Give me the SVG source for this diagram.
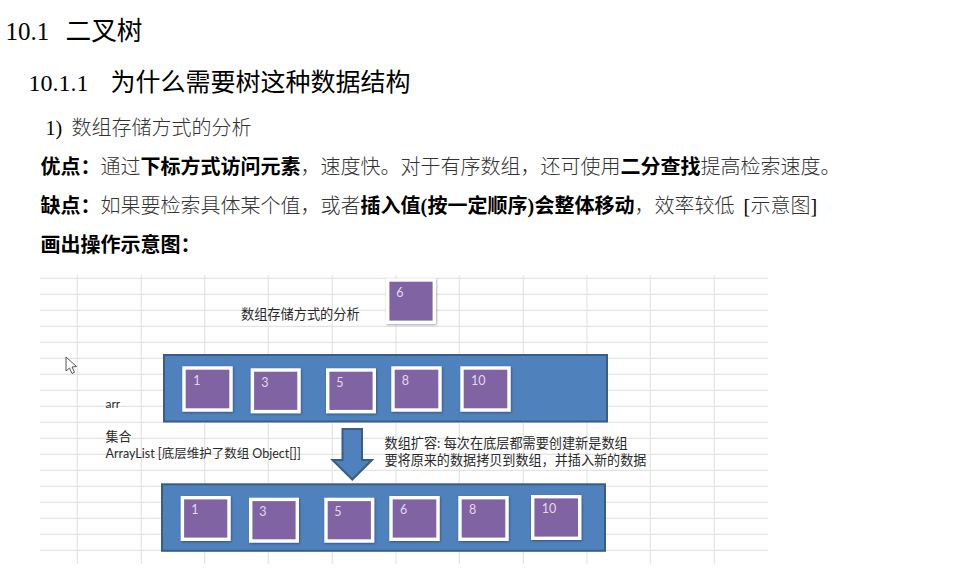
<svg xmlns="http://www.w3.org/2000/svg" width="961" height="576" viewBox="0 0 961 576">
<style>
text{white-space:pre}
.doc{font-family:"Liberation Serif","Noto Sans CJK SC",serif;fill:#000}
.cn{font-family:"Noto Sans CJK SC",sans-serif}
.reg{fill:#333;font-weight:300;font-size:20px}
.b{fill:#000;font-weight:700;font-size:20px}
.h{fill:#000;font-weight:400}
.x{font-family:"Lato","Noto Sans CJK SC",sans-serif;font-size:13px;fill:#2a2a2a}
.n{font-family:"Lato",sans-serif;font-size:12.500px;fill:#e3d9ee}
.g{stroke:#e4e4e4;stroke-width:1.2;fill:none}
.bar{fill:#4f81bd;stroke:#385d8a;stroke-width:2}
.sq{fill:#8064a2;stroke:#fff;stroke-width:3.4;filter:url(#s)}
</style>
<defs>
<filter id="s" x="-10%" y="-10%" width="125%" height="125%"><feDropShadow dx="0.7" dy="1" stdDeviation="0.8" flood-color="#000" flood-opacity="0.35"/></filter>
</defs>
<rect width="961" height="576" fill="#fff"/>

<g id="title">
<text class="doc" x="5.500" y="40" font-size="25">10.1</text><text class="cn h" x="65.500" y="40" font-size="25.700">二叉树</text>
</g>
<g id="subtitle">
<text class="doc" x="28.500" y="91" font-size="24">10.1.1</text><text class="cn h" x="110.500" y="91" font-size="25">为什么需要树这种数据结构</text>
</g>
<g id="line-1">
<text class="doc" x="45.500" y="135" font-size="20" fill="#333">1)</text><text class="cn reg" x="71.500" y="135">数组存储方式的分析</text>
</g>
<g id="line-2">
<text class="cn" x="40.500" y="174"><tspan class="b">优点：</tspan><tspan class="reg">通过</tspan><tspan class="b">下标方式访问元素</tspan><tspan class="reg">，速度快。对于有序数组，还可使用</tspan><tspan class="b">二分查找</tspan><tspan class="reg">提高检索速度。</tspan></text>
</g>
<g id="line-3">
<text class="cn" x="40.500" y="213"><tspan class="b">缺点：</tspan><tspan class="reg">如果要检索具体某个值，或者</tspan><tspan class="b">插入值</tspan></text>
<text class="doc" x="420.500" y="213" font-size="20" font-weight="700">(</text>
<text class="cn b" x="427.500" y="213">按一定顺序</text>
<text class="doc" x="527.500" y="213" font-size="20" font-weight="700">)</text>
<text class="cn b" x="534.500" y="213">会整体移动</text>
<text class="cn reg" x="634.500" y="213">，效率较低</text>
<text class="doc" x="743.500" y="213" font-size="20" fill="#333">[</text>
<text class="cn reg" x="750.500" y="213">示意图</text>
<text class="doc" x="810.500" y="213" font-size="20" fill="#333">]</text>
</g>
<g id="line-4">
<text class="cn b" x="40.500" y="252">画出操作示意图：</text>
</g>

<g id="grid">
<path class="g" d="M40 278.300H768M40 294.300H768M40 310.300H768M40 326.300H768M40 342.300H768M40 358.300H768M40 374.300H768M40 390.300H768M40 406.300H768M40 422.300H768M40 438.300H768M40 454.300H768M40 470.300H768M40 486.300H768M40 502.300H768M40 518.300H768M40 534.300H768M40 550.300H768"/>
<path class="g" d="M77.300 275V564M141.300 275V564M204.700 275V564M268.300 275V564M332.300 275V564M396 275V564M459.300 275V564M523.300 275V564M587 275V564M650.300 275V564M714.300 275V564"/>
</g>

<g id="cursor">
<path d="M66 357V371L69.500 368L72 373.500L74.500 372.300L72 367L76.500 366.500Z" fill="#fff" stroke="#555" stroke-width="1"/>
</g>

<g id="label-heading"><text class="x" x="241" y="319" font-size="13.200" style="font-size:13.200px">数组存储方式的分析</text></g>
<g id="label-arr"><text class="x" x="105.500" y="408" style="font-size:12px">arr</text></g>
<g id="label-collection">
<text class="x" x="105.500" y="441">集合</text>
<text class="x" x="105.500" y="458" style="font-size:12.500px">ArrayList [底层维护了数组 Object[]]</text>
</g>
<g id="label-expand">
<text class="x" x="384.500" y="448" style="font-size:13.150px">数组扩容: 每次在底层都需要创建新是数组</text>
<text class="x" x="384.500" y="465" style="font-size:13.100px">要将原来的数据拷贝到数组，并插入新的数据</text>
</g>

<g id="array-before"><rect class="bar" x="164" y="355" width="443" height="66.500"/></g>
<g id="array-after"><rect class="bar" x="162" y="484.300" width="443" height="66.500"/></g>

<g id="connectors">
<path d="M342.500 429H362V460H372L352.300 479.500L332.500 460H342.500Z" fill="#4f81bd" stroke="#385d8a" stroke-width="2"/>
</g>

<g id="new-6"><rect class="sq" x="387.700" y="280" width="46.600" height="42.300"/><text class="n" x="396.300" y="296.700">6</text></g>

<g id="a1"><rect class="sq" x="184" y="368" width="47" height="42"/><text class="n" x="193.300" y="385">1</text></g>
<g id="a3"><rect class="sq" x="252.400" y="370" width="46.600" height="41.600"/><text class="n" x="261.300" y="386.700">3</text></g>
<g id="a5"><rect class="sq" x="327.700" y="370" width="46.600" height="41.600"/><text class="n" x="336.300" y="386.700">5</text></g>
<g id="a8"><rect class="sq" x="393" y="368" width="47" height="42"/><text class="n" x="401.700" y="385">8</text></g>
<g id="a10"><rect class="sq" x="462" y="368" width="47" height="42"/><text class="n" x="471" y="385">10</text></g>

<g id="b1"><rect class="sq" x="182.400" y="497.700" width="46.600" height="41.600"/><text class="n" x="191.300" y="514">1</text></g>
<g id="b3"><rect class="sq" x="250.700" y="499.400" width="46.600" height="41.600"/><text class="n" x="259.300" y="516">3</text></g>
<g id="b5"><rect class="sq" x="326" y="499.400" width="46.600" height="41.600"/><text class="n" x="334.300" y="516">5</text></g>
<g id="b6"><rect class="sq" x="391" y="497.700" width="47" height="41.600"/><text class="n" x="400" y="514">6</text></g>
<g id="b8"><rect class="sq" x="460" y="497.700" width="47" height="41.600"/><text class="n" x="469" y="514.300">8</text></g>
<g id="b10"><rect class="sq" x="532.700" y="496.700" width="47" height="41.600"/><text class="n" x="541.700" y="513.300">10</text></g>
</svg>
